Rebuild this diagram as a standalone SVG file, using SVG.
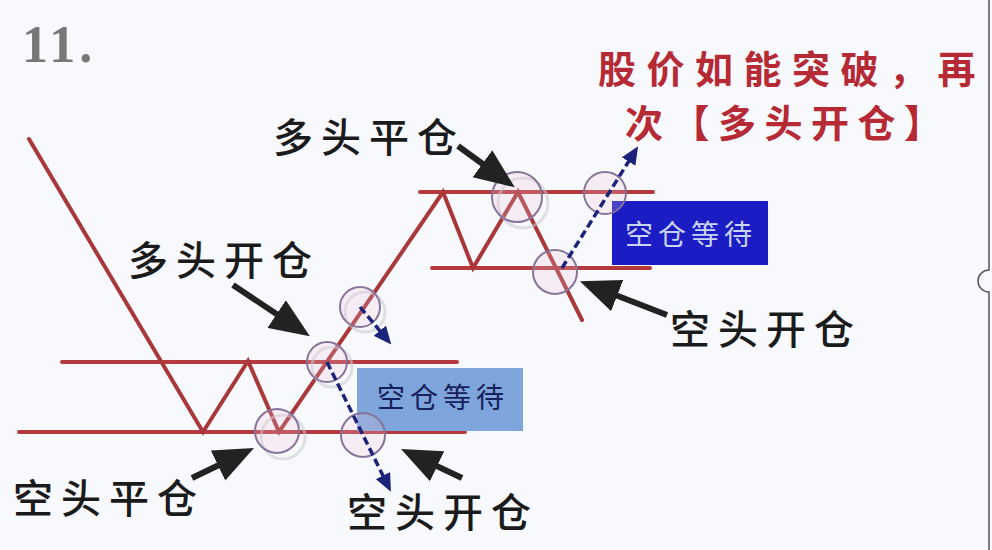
<svg xmlns="http://www.w3.org/2000/svg" width="992" height="550" viewBox="0 0 992 550">
  <style>
    .price { fill: none; stroke: #a8383a; stroke-width: 4; stroke-linejoin: miter; stroke-linecap: round; }
    .level { fill: none; stroke: #b53a3e; stroke-width: 4; stroke-linecap: round; }
    .ring { fill: #f2c6dc; fill-opacity: 0.22; stroke: #86749a; stroke-width: 2; }
    .ringshadow { fill: none; stroke: #c9c9d2; stroke-width: 3; opacity: 0.55; }
    .blk { stroke: #222; stroke-width: 6; fill: none; marker-end: url(#bighead); }
    .dash { stroke: #1c237a; stroke-width: 3.5; stroke-dasharray: 8 4; fill: none; marker-end: url(#navyhead); }
    .lbl { font-family: "Noto Sans CJK SC", "Noto Sans", sans-serif; font-size: 40px; font-weight: 500; fill: #1b1b1b; letter-spacing: 8px; }
    .red { font-family: "Noto Sans CJK SC", "Noto Sans", sans-serif; font-size: 38px; font-weight: bold; fill: #b52a35; }
    .boxtxt { font-family: "Noto Sans CJK SC", "Noto Sans", sans-serif; font-size: 28px; letter-spacing: 5px; }
  </style>
  <defs>
    <marker id="bighead" markerUnits="userSpaceOnUse" markerWidth="40" markerHeight="34" viewBox="0 0 36 30" refX="16" refY="15" orient="auto">
      <path d="M0,0 L36,15 L0,30 z" fill="#222"/>
    </marker>
    <marker id="navyhead" markerUnits="userSpaceOnUse" markerWidth="18" markerHeight="16" viewBox="0 0 18 16" refX="8" refY="8" orient="auto">
      <path d="M0,0 L18,8 L0,16 z" fill="#1c237a"/>
    </marker>
  </defs>

  <rect x="0" y="0" width="992" height="550" fill="#f8f9fc"/>
  <path d="M989,0 V270 A11,11 0 0 0 989,292 V550" fill="none" stroke="#555" stroke-width="1.5"/>

  <text x="22" y="62" font-family="Liberation Serif, serif" font-size="52" font-weight="bold" fill="#777777" letter-spacing="4">11.</text>

  <g id="levels">
    <line class="level" x1="62" y1="362" x2="457" y2="362"/>
    <line class="level" x1="19" y1="432" x2="465" y2="432"/>
    <line class="level" x1="420" y1="192" x2="653" y2="192"/>
    <line class="level" x1="432" y1="268" x2="650" y2="268"/>
  </g>

  <g id="price">
    <polyline class="price" points="29,139 203,432 248,361 279,432 443,192 473,268 518,192 582,320"/>
  </g>

  <g id="box-wait-1">
    <rect x="357" y="368" width="166" height="63" fill="#7ea6dc"/>
    <text class="boxtxt" x="377" y="408" fill="#17205a">空仓等待</text>
  </g>
  <g id="box-wait-2">
    <rect x="612" y="201" width="156" height="64" fill="#1c1cc4"/>
    <text class="boxtxt" x="625" y="245" fill="#c9d3f5">空仓等待</text>
  </g>

  <g id="rings">
    <circle class="ringshadow" cx="283" cy="437" r="22"/>
    <circle class="ring" cx="277" cy="431" r="22"/>
    <circle class="ringshadow" cx="332" cy="367" r="20"/>
    <circle class="ring" cx="327" cy="362" r="20"/>
    <circle class="ringshadow" cx="365" cy="312" r="20"/>
    <circle class="ring" cx="360" cy="307" r="20"/>
    <circle class="ring" cx="363" cy="435" r="22"/>
    <circle class="ringshadow" cx="523" cy="203" r="25"/>
    <circle class="ring" cx="517" cy="197" r="25"/>
    <circle class="ring" cx="605" cy="193" r="21"/>
    <circle class="ring" cx="555" cy="272" r="22"/>
  </g>

  <g id="connectors">
    <line class="blk" x1="458" y1="146" x2="496.8" y2="174.2"/>
    <line class="blk" x1="233" y1="285" x2="291.4" y2="323.9"/>
    <line class="blk" x1="667" y1="315" x2="600.6" y2="289.2"/>
    <line class="blk" x1="192" y1="478" x2="234" y2="457.7"/>
    <line class="blk" x1="462" y1="478" x2="421.1" y2="458.6"/>
    <line class="dash" x1="327" y1="362" x2="386.5" y2="482.8"/>
    <line class="dash" x1="360" y1="307" x2="384.9" y2="336.9"/>
    <line class="dash" x1="562" y1="268" x2="632.8" y2="154.8"/>
  </g>

  <g id="labels">
    <text class="lbl" x="273" y="152">多头平仓</text>
    <text class="lbl" x="128" y="275">多头开仓</text>
    <text class="lbl" x="670" y="344">空头开仓</text>
    <text class="lbl" x="13" y="513">空头平仓</text>
    <text class="lbl" x="347" y="527">空头开仓</text>
  </g>
  <g id="note">
    <text class="red" x="598" y="83" letter-spacing="10.5">股价如能突破，再</text>
    <text class="red" x="625" y="137" letter-spacing="8.5">次【多头开仓】</text>
  </g>
</svg>
